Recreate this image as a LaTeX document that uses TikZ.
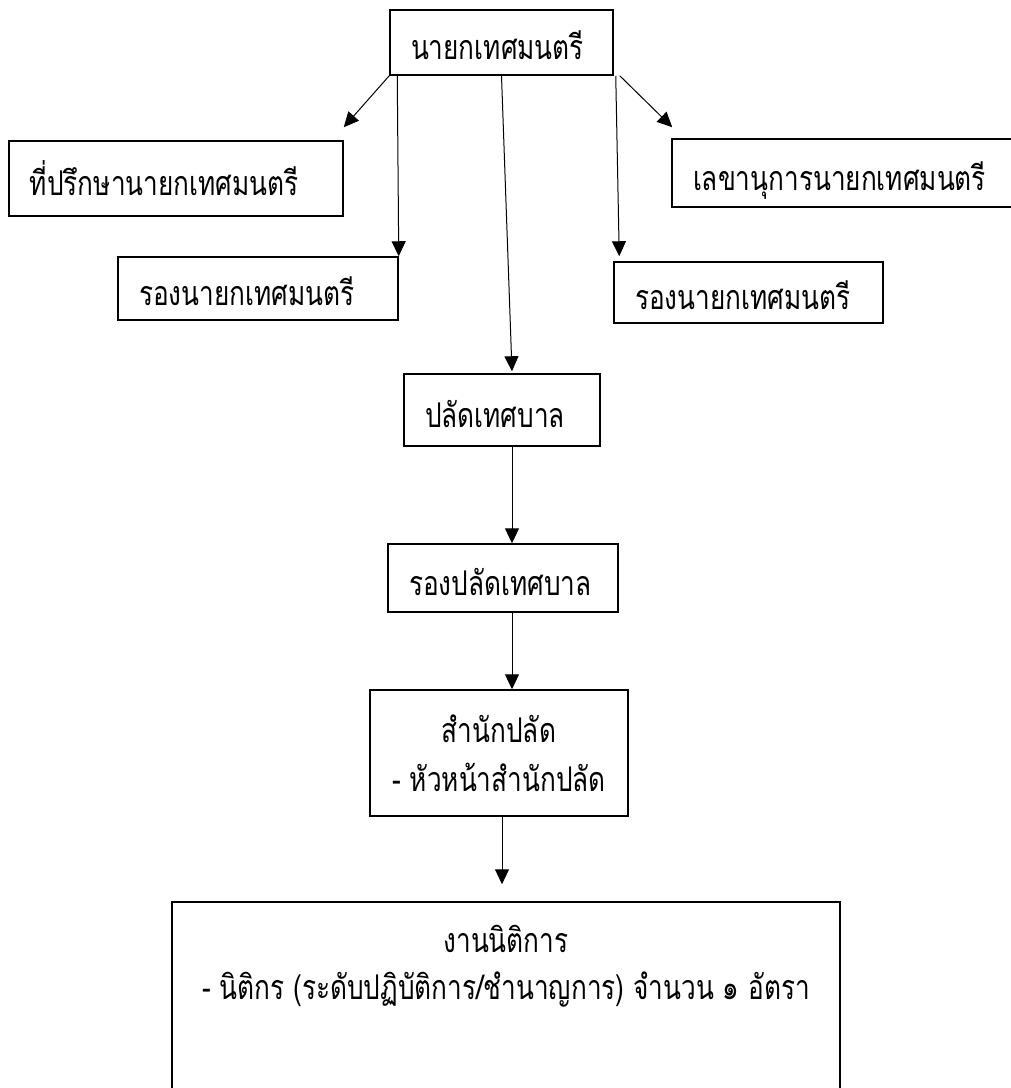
\documentclass[tikz,border=0pt]{standalone}
\usepackage{fontspec}
\newfontfamily\thaifont[Script=Thai, FakeStretch=0.77]{Loma}
\usetikzlibrary{arrows.meta}

\begin{document}
\begin{tikzpicture}[auto, x=1pt, y=1pt, node distance=170pt]

    % Styles
    \tikzstyle{block} = [rectangle, inner sep=0pt, text centered, draw=black, line width=1.5pt, font=\thaifont\fontsize{34}{49}\selectfont]
    \tikzstyle{post} = [block, align=left, inner xsep=21pt, text height=40pt, text depth=6pt]
    \tikzstyle{arrow} = [line width=1pt, ->, >={Triangle[length=15pt, width=14pt]}]

    \clip (0,0) rectangle (1011,-1088);

    % Boxes
    \node (mayor) [post, text width=181pt, minimum height=65pt] at (501.5,-42.5) {นายกเทศมนตรี};
    \node (advisor) [post, below of=mayor, text width=292pt, minimum height=75pt, xshift=-325.5pt, yshift=34pt] {ที่ปรึกษานายกเทศมนตรี};
    \node (secretary) [post, below of=mayor, text width=308pt, minimum height=68pt, xshift=345.5pt, yshift=39.5pt] {เลขานุการนายกเทศมนตรี};
    \node (deputyL) [post, below of=mayor, text width=238pt, minimum height=63pt, xshift=-243.5pt, yshift=-76pt] {รองนายกเทศมนตรี};
    \node (deputyR) [post, below of=mayor, text width=227pt, minimum height=61pt, xshift=247pt, yshift=-80pt] {รองนายกเทศมนตรี};
    \node (clerk) [post, below of=mayor, text width=154pt, minimum height=72pt, xshift=0.5pt, yshift=-197.5pt] {ปลัดเทศบาล};
    \node (deputyclerk) [post, below of=clerk, text width=188pt, minimum height=68pt, xshift=1pt, yshift=2pt] {รองปลัดเทศบาล};
    \node (office) [block, below of=deputyclerk, minimum width=258pt, minimum height=126pt, xshift=-4pt, yshift=-5pt] {\parbox{250pt}{\centering สำนักปลัด \\ - หัวหน้าสำนักปลัด}};
    \node (legal) [block, below of=office, minimum width=668pt, minimum height=198pt, xshift=7pt, yshift=-78pt] {\parbox[c][198pt][t]{660pt}{\centering\fontsize{34}{47}\selectfont\vspace*{23pt}งานนิติการ \\ - นิติกร (ระดับปฏิบัติการ/ชำนาญการ) จำนวน ๑ อัตรา}};

    % Arrows
    \draw [arrow] (mayor.south west) -- ([yshift=13pt]advisor.north east);
    \draw [arrow] ([xshift=8pt]mayor.south west) -- (deputyL.north east);
    \draw [arrow] (mayor.south) -- ([xshift=10pt, yshift=2pt]clerk.north);
    \draw [arrow] ([xshift=2pt]mayor.south east) -- ([xshift=6pt, yshift=5pt]deputyR.north west);
    \draw [arrow] ([xshift=6pt]mayor.south east) -- ([xshift=1pt, yshift=11pt]secretary.north west);
    \draw [arrow] ([xshift=10pt]clerk.south) -- ([xshift=9pt]deputyclerk.north);
    \draw [arrow] ([xshift=9pt]deputyclerk.south) -- ([xshift=13pt]office.north);
    \draw [arrow] ([xshift=3pt]office.south) -- ([xshift=-4pt, yshift=17pt]legal.north);

\end{tikzpicture}
\end{document}
